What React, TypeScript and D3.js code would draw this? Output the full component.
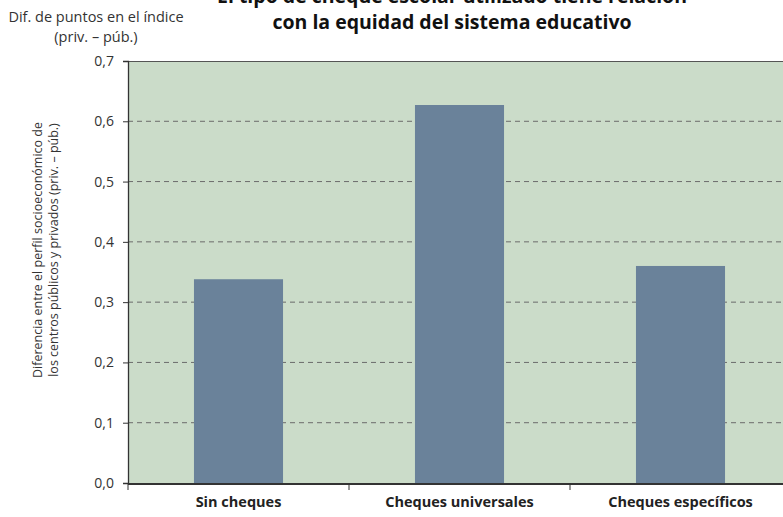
import { useEffect, useRef } from "react";
import * as d3 from "d3";

const W = 783;
const H = 517;
const M = { top: 61, right: -8, bottom: 34, left: 128 };

const CATEGORIES = ["Sin cheques", "Cheques universales", "Cheques específicos"];
const VALUES = [0.338, 0.627, 0.36];
const Y_TICKS = [0, 0.1, 0.2, 0.3, 0.4, 0.5, 0.6, 0.7];
const TITLE = ["El tipo de cheque escolar utilizado tiene relación", "con la equidad del sistema educativo"];
const Y_UNIT = ["Dif. de puntos en el índice", "(priv. – púb.)"];
const Y_LABEL = ["Diferencia entre el perfil socioeconómico de", "los centros públicos y privados (priv. – púb.)"];

const FONT = "'Open Sans', 'DejaVu Sans', sans-serif";
const BG = "#cbdcc9";
const BAR = "#6a829a";

export default function App() {
  const ref = useRef<SVGSVGElement>(null);

  useEffect(() => {
    if (!ref.current) return;
    const svg = d3.select(ref.current);
    svg.selectAll("*").remove();

    const x0 = M.left;
    const x1 = W - M.right;
    const y0 = H - M.bottom;
    const y1 = M.top;

    const x = d3.scaleBand<string>().domain(CATEGORIES).range([x0, x1]).paddingInner(0).paddingOuter(0);
    const y = d3.scaleLinear().domain([0, 0.7]).range([y0, y1]);
    const barW = x.bandwidth() * 0.403;

    // fondo
    svg.append("rect")
      .attr("x", x0).attr("y", y1).attr("width", x1 - x0).attr("height", y0 - y1)
      .attr("fill", BG);

    // rejilla
    svg.append("g").selectAll("line")
      .data(Y_TICKS.filter((t) => t > 0 && t < 0.7))
      .join("line")
      .attr("x1", x0).attr("x2", x1)
      .attr("y1", (d) => y(d)).attr("y2", (d) => y(d))
      .attr("stroke", "#6b6b6b").attr("stroke-width", 1)
      .attr("stroke-dasharray", "5,4");

    // barras
    svg.append("g").selectAll("rect")
      .data(VALUES)
      .join("rect")
      .attr("x", (_, i) => (x(CATEGORIES[i]) as number) + x.bandwidth() / 2 - barW / 2)
      .attr("width", barW)
      .attr("y", (d) => y(d))
      .attr("height", (d) => y0 - y(d))
      .attr("fill", BAR);

    // borde superior
    svg.append("line")
      .attr("x1", x0).attr("x2", x1).attr("y1", y1 + 0.5).attr("y2", y1 + 0.5)
      .attr("stroke", "#555").attr("stroke-width", 1.2);

    // eje Y
    const yAxis = svg.append("g")
      .attr("transform", `translate(${x0},0)`)
      .call(d3.axisLeft(y).tickValues(Y_TICKS).tickSize(5).tickFormat((d) => d3.format(".1f")(d as number).replace(".", ",")));
    yAxis.select(".domain").attr("stroke", "#333").attr("stroke-width", 1.3);
    yAxis.selectAll(".tick line").attr("stroke", "#333");
    yAxis.selectAll("text")
      .attr("font-family", FONT).attr("font-size", 14).attr("fill", "#333").attr("x", -14);

    // eje X
    const xAxis = svg.append("g")
      .attr("transform", `translate(0,${y0})`)
      .call(d3.axisBottom(x).tickSize(0).tickPadding(14));
    xAxis.select(".domain").remove();
    xAxis.selectAll("text")
      .attr("font-family", FONT).attr("font-size", 14.5).attr("font-weight", 700).attr("fill", "#222");
    svg.append("line")
      .attr("x1", x0).attr("x2", x1).attr("y1", y0 + 1).attr("y2", y0 + 1)
      .attr("stroke", "#333").attr("stroke-width", 2);
    svg.append("g").selectAll("line")
      .data([x0, ...CATEGORIES.slice(1).map((c) => x(c) as number)])
      .join("line")
      .attr("x1", (d) => d).attr("x2", (d) => d)
      .attr("y1", y0).attr("y2", y0 + 7)
      .attr("stroke", "#333").attr("stroke-width", 1);

    // título
    svg.append("text")
      .attr("text-anchor", "middle")
      .attr("font-family", FONT).attr("font-size", 19.5).attr("font-weight", 700).attr("fill", "#111")
      .selectAll("tspan")
      .data(TITLE)
      .join("tspan")
      .attr("x", 452).attr("y", (_, i) => 3 + i * 26)
      .text((d) => d);

    // unidad del eje Y
    svg.append("text")
      .attr("text-anchor", "middle")
      .attr("font-family", FONT).attr("font-size", 14.5).attr("fill", "#333")
      .selectAll("tspan")
      .data(Y_UNIT)
      .join("tspan")
      .attr("x", 96).attr("y", (_, i) => 22 + i * 20)
      .text((d) => d);

    // etiqueta rotada
    svg.append("text")
      .attr("transform", `translate(42,${(y0 + y1) / 2 - 22}) rotate(-90)`)
      .attr("text-anchor", "middle")
      .attr("font-family", FONT).attr("font-size", 12.5).attr("fill", "#333")
      .selectAll("tspan")
      .data(Y_LABEL)
      .join("tspan")
      .attr("x", 0).attr("dy", (_, i) => (i === 0 ? 0 : 16))
      .text((d) => d);
  }, []);

  return (
    <div style={{ position: "absolute", left: 0, top: 0 }}>
      <svg ref={ref} width={W} height={H} style={{ display: "block" }} />
    </div>
  );
}
